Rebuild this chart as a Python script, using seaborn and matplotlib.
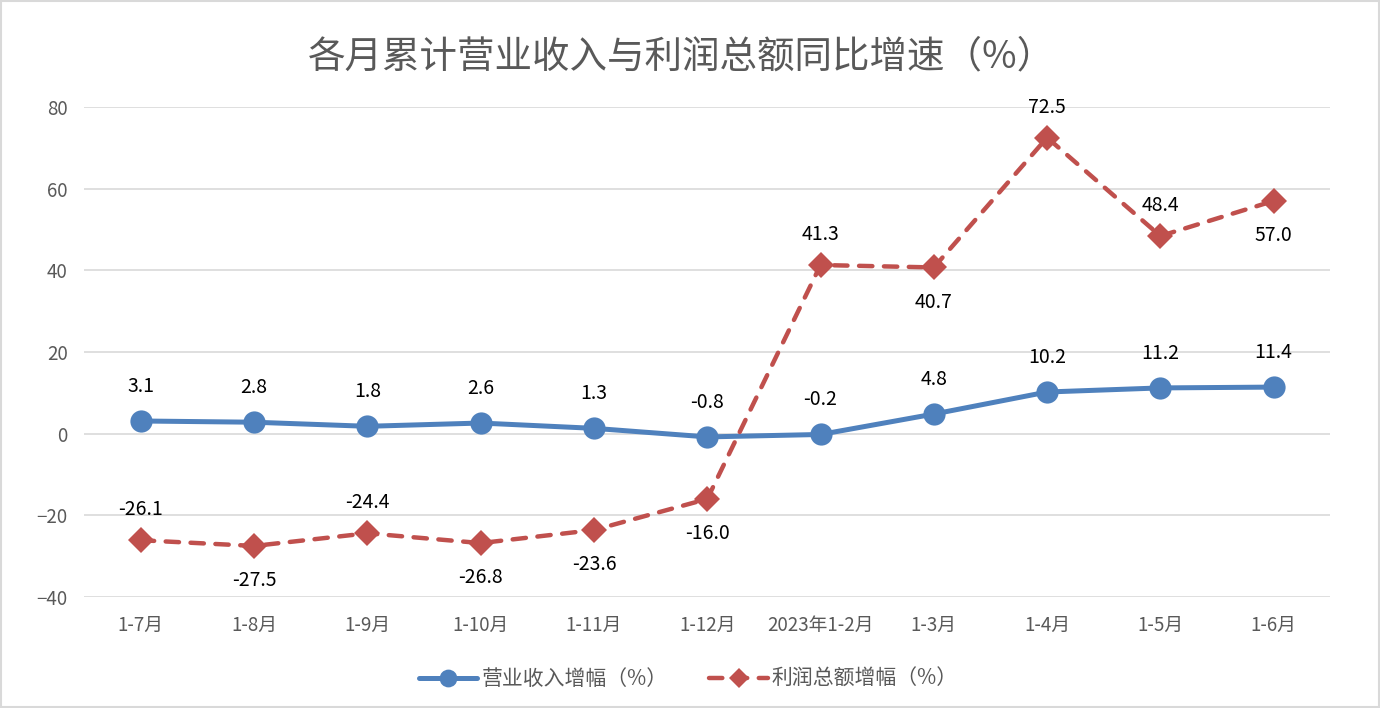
import matplotlib
matplotlib.use("Agg")
import matplotlib.pyplot as plt
import seaborn as sns
import pandas as pd
import numpy as np
from matplotlib.patches import Rectangle

categories = ["1-7月", "1-8月", "1-9月", "1-10月", "1-11月", "1-12月",
              "2023年1-2月", "1-3月", "1-4月", "1-5月", "1-6月"]
revenue = [3.1, 2.8, 1.8, 2.6, 1.3, -0.8, -0.2, 4.8, 10.2, 11.2, 11.4]
profit = [-26.1, -27.5, -24.4, -26.8, -23.6, -16.0, 41.3, 40.7, 72.5, 48.4, 57.0]
profit_label_above = [True, False, True, False, False, False, True, False, True, True, False]
series_names = ["营业收入增幅（%）", "利润总额增幅（%）"]
yticks = [-40, -20, 0, 20, 40, 60, 80]

sns.set_theme(style="white")
plt.rcParams['font.family'] = ['Noto Sans CJK SC', 'DejaVu Sans']
plt.rcParams['axes.unicode_minus'] = True

fig = plt.figure(figsize=(13.8, 7.08), dpi=100)
ax = fig.add_axes([0.061, 0.1568, 0.903, 0.6921])

x = np.arange(len(categories))
df = pd.DataFrame({"x": x, "revenue": revenue, "profit": profit})

blue = "#4F81BD"
red = "#C0504D"

sns.lineplot(data=df, x="x", y="revenue", ax=ax, color=blue, linewidth=3.6,
             marker="o", markersize=16, markeredgewidth=0, label=series_names[0],
             zorder=3)
sns.lineplot(data=df, x="x", y="profit", ax=ax, color=red, linewidth=3.2,
             marker="D", markersize=13, markeredgewidth=0, label=series_names[1],
             zorder=4)
red_line = ax.lines[1]
red_line.set_dashes([3.0, 2.6])
red_line.set_dash_capstyle("round")

ax.set_xlim(-0.5, len(categories) - 0.5)
ax.set_ylim(-40, 80)
ax.set_yticks(yticks)
ax.set_yticklabels([f"{v}".replace("-", "\u2212") for v in yticks])
ax.set_xticks(x)
ax.set_xticklabels(categories)
ax.set_xlabel("")
ax.set_ylabel("")
ax.tick_params(axis="both", colors="#595959", labelsize=13.5, length=0)
ax.tick_params(axis="y", pad=12)
ax.tick_params(axis="x", pad=13)
ax.grid(axis="y", color="#D9D9D9", linewidth=1.2)
ax.set_axisbelow(True)
for s in ax.spines.values():
    s.set_visible(False)

for xi, v in zip(x, revenue):
    ax.annotate(f"{v:.1f}", (xi, v), xytext=(0, 25), textcoords="offset points",
                ha="center", va="center", fontsize=14, color="black")
for xi, v, up in zip(x, profit, profit_label_above):
    ax.annotate(f"{v:.1f}", (xi, v), xytext=(0, 22 if up else -25),
                textcoords="offset points", ha="center", va="center",
                fontsize=14, color="black")

fig.text(0.4935, 0.919, "各月累计营业收入与利润总额同比增速（%）", ha="center", va="center",
         fontsize=27, color="#595959")

leg = ax.legend(loc="center", bbox_to_anchor=(0.485, -0.167), ncol=2, frameon=False,
                fontsize=15, handlelength=2.8, columnspacing=2.0, handletextpad=0.2,
                markerscale=0.8)
for t in leg.get_texts():
    t.set_color("#595959")

fig.patches.append(Rectangle((0.001, 0.001), 0.998, 0.998, transform=fig.transFigure,
                             fill=False, edgecolor="#D9D9D9", linewidth=1.5))

fig.savefig("out.png", dpi=100)
